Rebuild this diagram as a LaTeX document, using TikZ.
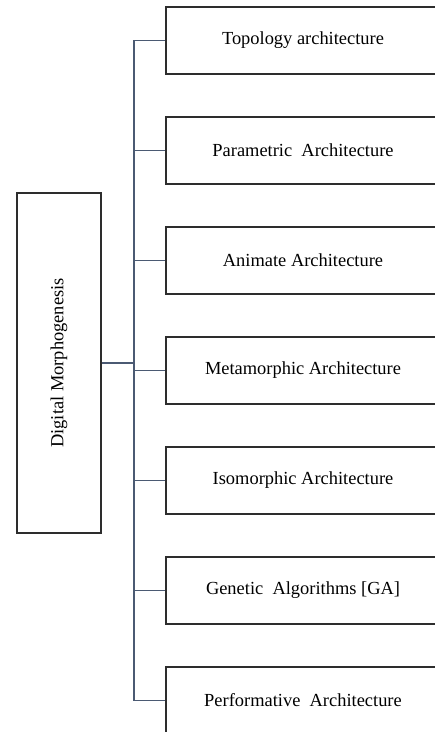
\documentclass[tikz,border=0pt]{standalone}
\usepackage{fontspec}
\setmainfont{Liberation Serif}
\definecolor{connc}{RGB}{75,90,115}
\definecolor{boxc}{RGB}{45,45,45}
\begin{document}
\begin{tikzpicture}[x=1bp,y=-1bp,
  box/.style={draw=boxc,line width=1.3bp,minimum width=274bp,minimum height=67bp,inner sep=0pt,
    font=\fontsize{18.5}{22}\selectfont},
  conn/.style={draw=connc,line width=1.6bp}]
\clip (0,0) rectangle (435,732);
\fill[white] (0,0) rectangle (435,732);
\node[box,minimum width=84bp,minimum height=340bp] (dm) at (59,363)
  {\rotatebox{90}{Digital Morphogenesis}};
\node[box] (b1) at (303,40.5) {Topology architecture};
\node[box] (b2) at (303,150.5) {Parametric\ \ Architecture};
\node[box] (b3) at (303,260.5) {Animate Architecture};
\node[box] (b4) at (303,370.5) {Metamorphic Architecture};
\node[box] (b5) at (303,480.5) {Isomorphic Architecture};
\node[box] (b6) at (303,590.5) {Genetic\ \ Algorithms [GA]};
\node[box] (b7) at (303,700.5) {Performative\ \ Architecture};
\coordinate (trunk) at (134,363);
\draw[conn] (dm.east) -- (trunk);
\foreach \b in {b1,b2,b3,b4,b5,b6,b7}
  \draw[conn] (trunk) |- (\b.west);
\end{tikzpicture}
\end{document}
